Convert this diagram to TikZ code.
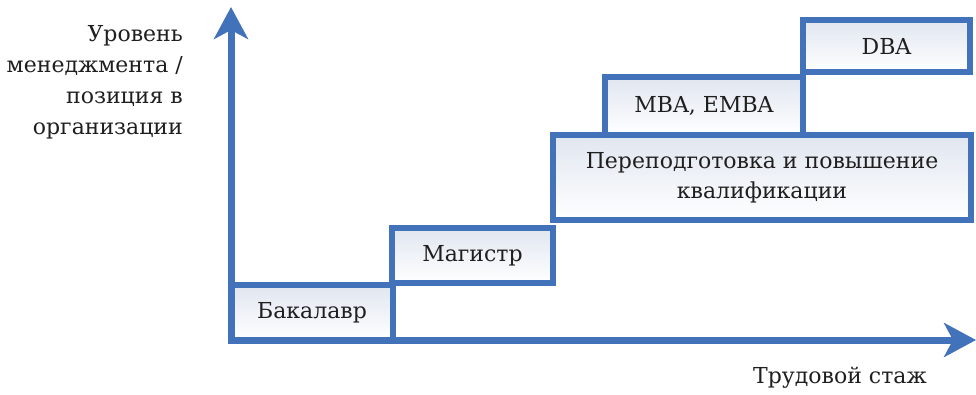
\documentclass[tikz,border=0pt]{standalone}
\usepackage{fontspec}
\setmainfont{DejaVu Serif}
\usetikzlibrary{arrows.meta}
\definecolor{axblue}{RGB}{66,114,186}
\definecolor{boxtop}{RGB}{224,230,240}
\tikzset{
  axisline/.style={draw=axblue, line width=7pt, -{Stealth[length=32pt,width=34pt,inset=9pt]}},
  stepbox/.style={draw=axblue, line width=6pt, top color=boxtop, bottom color=white, inner sep=0pt, font=\fontsize{22}{30}\selectfont, text=black!88, align=center},
  lbl/.style={font=\fontsize{22}{31}\selectfont, text=black!88, inner sep=0pt}
}
\begin{document}
\begin{tikzpicture}[x=1pt,y=-1pt]
\useasboundingbox (0,0) rectangle (976,394);
% boxes: corners at line centres
\node[stepbox, minimum width=162pt, minimum height=55pt] (bak) at (312,312.5) {Бакалавр};
\node[stepbox, minimum width=161pt, minimum height=55pt] (mag) at (472.5,255.5) {Магистр};
\node[stepbox, minimum width=418pt, minimum height=85pt] (rep) at (762,177.5) {Переподготовка и повышение\\квалификации};
\node[stepbox, minimum width=198pt, minimum height=58pt] (mba) at (704,106) {MBA, EMBA};
\node[stepbox, minimum width=167pt, minimum height=52pt] (dba) at (886.5,46) {DBA};
% axes
\coordinate (o) at (231,340);
\coordinate (ytip) at (231,7);
\coordinate (xtip) at (976,340);
\draw[axisline] ([yshift=3.5pt]o) -- (ytip);
\draw[axisline] ([xshift=-3.5pt]o) -- (xtip);
% labels
\node[lbl, anchor=east, align=right] (ylab) at (183,82) {Уровень\\менеджмента /\\позиция в\\организации};
\node[lbl] (xlab) at (840,378) {Трудовой стаж};
\end{tikzpicture}
\end{document}
